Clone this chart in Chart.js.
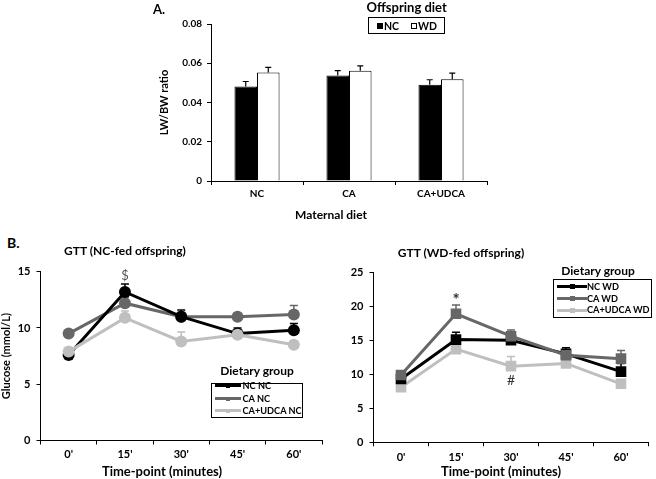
<!DOCTYPE html>
<html><head><meta charset="utf-8">
<script src="https://cdn.jsdelivr.net/npm/chart.js@4.4.1/dist/chart.umd.min.js"></script>
<style>
html,body{margin:0;padding:0;background:#fff;width:656px;height:479px;overflow:hidden;}
#wrap{position:relative;width:656px;height:479px;font-family:Lato,"Liberation Sans",sans-serif;}
canvas{position:absolute;}
.t{position:absolute;font-weight:bold;white-space:nowrap;color:#000;}
.box{position:absolute;border:1px solid #000;box-sizing:border-box;background:#fff;}
</style></head><body>
<div id="wrap">
<canvas id="cA" style="left:150px;top:0px" width="345" height="225"></canvas>
<canvas id="cL" style="left:0px;top:255px" width="330" height="224"></canvas>
<canvas id="cR" style="left:330px;top:255px" width="326" height="224"></canvas>
</div>
<script>
// ---------- DATA ----------
const maternalDiets = ['NC', 'CA', 'CA+UDCA'];
const offspringDiets = ['NC', 'WD'];
const lwbwNC = [0.0482, 0.0538, 0.0490];
const lwbwWD = [0.0553, 0.0562, 0.0519];
const lwbwNCerr = [0.0025, 0.0024, 0.0026];
const lwbwWDerr = [0.0026, 0.0025, 0.0031];
const lwbwTicks = [0, 0.02, 0.04, 0.06, 0.08];

const timePoints = ["0'", "15'", "30'", "45'", "60'"];
const groupsNC = ['NC NC', 'CA NC', 'CA+UDCA NC'];
const gttNC_NCNC = [7.6, 13.2, 11.0, 9.5, 9.8];
const gttNC_CANC = [9.5, 12.2, 11.0, 11.0, 11.2];
const gttNC_UDCA = [7.9, 10.9, 8.8, 9.4, 8.5];
const errNC_NCNC = [0.3, 0.7, 0.6, 0.5, 0.6];
const errNC_CANC = [0.3, 0.5, 0.4, 0.3, 0.8];
const errNC_UDCA = [0.3, 0.6, 0.85, 0.3, 0.3];

const groupsWD = ['NC WD', 'CA WD', 'CA+UDCA WD'];
const gttWD_NCWD = [9.3, 15.1, 15.0, 13.0, 10.4];
const gttWD_CAWD = [9.9, 18.9, 15.6, 12.8, 12.3];
const gttWD_UDCA = [8.1, 13.7, 11.2, 11.6, 8.6];
const errWD_NCWD = [0.4, 1.1, 0.8, 0.9, 1.2];
const errWD_CAWD = [0.5, 1.3, 0.9, 0.5, 1.2];
const errWD_UDCA = [0.4, 0.6, 1.4, 0.5, 0.5];

// ---------- STYLE ----------
const FONT = 'Lato, "Liberation Sans", sans-serif';
const C_BLACK = '#000000', C_DARK = '#676767', C_LIGHT = '#bfbfbf';

// ---------- PLUGINS ----------
const errorBars = {
  id: 'errorBars',
  afterDatasetDraw(chart, args) {
    const ds = chart.data.datasets[args.index];
    if (!ds.err) return;
    const ctx = chart.ctx, y = chart.scales.y;
    ctx.save();
    ctx.strokeStyle = ds.errColor || ds.borderColor;
    ctx.lineWidth = ds.errWidth || 1.5;
    const cap = ds.capHalf || 3;
    args.meta.data.forEach((el, j) => {
      const v = ds.data[j], e = ds.err[j];
      const yTop = y.getPixelForValue(v + e);
      const yBase = y.getPixelForValue(v);
      if (yBase <= yTop) return;
      ctx.beginPath();
      ctx.moveTo(el.x, yBase); ctx.lineTo(el.x, yTop);
      ctx.moveTo(el.x - cap, yTop); ctx.lineTo(el.x + cap, yTop);
      ctx.stroke();
    });
    ctx.restore();
  }
};
const marks = {
  id: 'marks',
  afterDatasetsDraw(chart, args, opts) {
    if (!opts.items) return;
    const ctx = chart.ctx;
    ctx.save();
    ctx.textAlign = 'center'; ctx.textBaseline = 'middle';
    opts.items.forEach(it => {
      ctx.font = it.font; ctx.fillStyle = it.color;
      ctx.fillText(it.text, chart.scales.x.getPixelForValue(it.i), chart.scales.y.getPixelForValue(it.v));
    });
    ctx.restore();
  }
};

// ---------- CHART A ----------
new Chart(document.getElementById('cA'), {
  type: 'bar',
  data: {
    labels: maternalDiets,
    datasets: [
      { label: offspringDiets[0], data: lwbwNC, err: lwbwNCerr, backgroundColor: '#000', borderColor: '#000', borderWidth: 1, errColor: '#000', capHalf: 3, errWidth: 1.2 },
      { label: offspringDiets[1], data: lwbwWD, err: lwbwWDerr, backgroundColor: '#fff', borderColor: '#000', borderWidth: 1, errColor: '#000', capHalf: 3, errWidth: 1.2 }
    ]
  },
  plugins: [errorBars],
  options: {
    responsive: false, animation: false, devicePixelRatio: 1,
    categoryPercentage: 0.49, barPercentage: 1.0,
    layout: { padding: { top: 24, right: 8, left: 0, bottom: 0 } },
    plugins: { legend: { display: false }, tooltip: { enabled: false } },
    scales: {
      x: {
        afterFit(s) { s.height = 44; },
        border: { color: '#000', width: 1 },
        grid: { drawOnChartArea: false, tickLength: 4, color: '#000' },
        ticks: { color: '#000', font: { family: FONT, size: 10, weight: 'bold' }, padding: 3 }
      },
      y: {
        min: 0, max: 0.08,
        afterFit(s) { s.width = 61; },
        afterBuildTicks(s) { s.ticks = lwbwTicks.map(v => ({ value: v })); },
        border: { color: '#000', width: 1 },
        grid: { drawOnChartArea: false, tickLength: 4, color: '#000' },
        ticks: { color: '#000', font: { family: FONT, size: 10, weight: 'bold' }, padding: 5, callback: v => String(v) },
        title: { display: true, text: 'LW/BW ratio', color: '#000', font: { family: FONT, size: 11, weight: 'bold' }, padding: { top: 8, bottom: 0 } }
      }
    }
  }
});

// ---------- LINE CHART FACTORY ----------
function lineChart(id, cfg) {
  return new Chart(document.getElementById(id), {
    type: 'line',
    data: { labels: timePoints, datasets: cfg.datasets },
    plugins: [errorBars, marks],
    options: {
      responsive: false, animation: false, devicePixelRatio: 1,
      layout: { padding: cfg.pad },
      plugins: { legend: { display: false }, tooltip: { enabled: false }, marks: { items: cfg.marks } },
      scales: {
        x: {
          offset: true,
          afterFit(s) { s.height = cfg.xH; },
          border: { color: '#000', width: 1 },
          grid: { offset: true, drawOnChartArea: false, tickLength: 4, color: '#000' },
          ticks: { color: '#000', font: { family: FONT, size: 11, weight: 'bold' }, padding: cfg.xTickPad }
        },
        y: {
          min: 0, max: cfg.ymax,
          afterFit(s) { s.width = cfg.yW; },
          border: { color: '#000', width: 1 },
          grid: { drawOnChartArea: false, tickLength: 4, color: '#000' },
          ticks: { stepSize: 5, color: '#000', font: { family: FONT, size: 11, weight: 'bold' }, padding: cfg.yTickPad },
          title: { display: !!cfg.yTitle, text: cfg.yTitle || '', color: '#000', font: { family: FONT, size: 11, weight: 'bold' }, padding: { top: 0, bottom: 0 } }
        }
      }
    }
  });
}
function ser(label, data, err, color, style, r, order) {
  return { label, data, err, borderColor: color, backgroundColor: color, pointBackgroundColor: color,
    pointBorderColor: color, borderWidth: 3, pointStyle: style, pointRadius: r, pointBorderWidth: 0,
    tension: 0, fill: false, order, capHalf: 4, errWidth: 1.5 };
}

lineChart('cL', {
  ymax: 15, yW: 40.5, xH: 38.5, xTickPad: 3, yTickPad: 6, yTitle: 'Glucose (mmol/L)',
  pad: { top: 16.7, right: 8, left: 0, bottom: 0 },
  datasets: [
    ser(groupsNC[0], gttNC_NCNC, errNC_NCNC, C_BLACK, 'circle', 6, 1),
    ser(groupsNC[1], gttNC_CANC, errNC_CANC, C_DARK, 'circle', 6, 2),
    ser(groupsNC[2], gttNC_UDCA, errNC_UDCA, C_LIGHT, 'circle', 6, 0)
  ],
  marks: [{ i: 1, v: 14.6, text: '$', font: '13px ' + FONT, color: '#555' }]
});

lineChart('cR', {
  ymax: 25, yW: 43.5, xH: 36.7, xTickPad: 5, yTickPad: 6, yTitle: '',
  pad: { top: 17.3, right: 1, left: 0, bottom: 0 },
  datasets: [
    ser(groupsWD[0], gttWD_NCWD, errWD_NCWD, C_BLACK, 'rect', 7.5, 1),
    ser(groupsWD[1], gttWD_CAWD, errWD_CAWD, C_DARK, 'rect', 7.5, 0),
    ser(groupsWD[2], gttWD_UDCA, errWD_UDCA, C_LIGHT, 'rect', 7.5, 2)
  ],
  marks: [
    { i: 1, v: 20.9, text: '*', font: 'bold 17px ' + FONT, color: '#333' },
    { i: 2, v: 9.1, text: '#', font: '14px ' + FONT, color: '#333' }
  ]
});

// ---------- HTML TEXT & LEGENDS ----------
const wrap = document.getElementById('wrap');
function txt(s, x, cy, size, align, extra) {
  const d = document.createElement('div');
  d.className = 't'; d.textContent = s;
  d.style.fontSize = size + 'px'; d.style.lineHeight = size + 'px';
  d.style.top = (cy - size / 2) + 'px';
  if (extra) Object.assign(d.style, extra);
  if (align === 'center') { d.style.left = x + 'px'; d.style.transform = 'translateX(-50%)'; }
  else d.style.left = x + 'px';
  wrap.appendChild(d); return d;
}
function box(x, y, w, h) {
  const d = document.createElement('div'); d.className = 'box';
  d.style.left = x + 'px'; d.style.top = y + 'px'; d.style.width = w + 'px'; d.style.height = h + 'px';
  wrap.appendChild(d); return d;
}
function rect(x, y, w, h, bg, border) {
  const d = document.createElement('div'); d.style.position = 'absolute';
  d.style.left = x + 'px'; d.style.top = y + 'px'; d.style.width = w + 'px'; d.style.height = h + 'px';
  d.style.background = bg; d.style.boxSizing = 'border-box';
  if (border) d.style.border = border;
  wrap.appendChild(d); return d;
}

txt('A.', 153, 9, 13, 'left');
txt('B.', 7, 243, 14, 'left');
txt('GTT  (NC-fed offspring)', 125, 251.3, 12, 'center');
txt('GTT  (WD-fed offspring)', 461, 253.3, 12, 'center');
txt('Maternal diet', 331, 215, 12, 'center');
txt('Time-point (minutes)', 162, 471.5, 13, 'center');
txt('Time-point (minutes)', 501, 471.5, 13, 'center');

// Legend A
txt('Offspring diet', 406.7, 7.5, 13, 'center');
box(368, 16.5, 77, 17);
rect(377, 23, 6, 6, '#000');
txt(offspringDiets[0], 384, 26, 10.5, 'left');
rect(411, 23, 6, 6, '#fff', '1px solid #000');
txt(offspringDiets[1], 418, 26, 10.5, 'left');

// Legend B left
txt('Dietary group', 257, 371, 12, 'center');
box(211, 382.7, 92, 35.5);
const colsL = [C_BLACK, C_DARK, C_LIGHT];
const rowsL = [385.7, 398.5, 410.7];
groupsNC.forEach((g, i) => {
  rect(215, rowsL[i] - 1.5, 26, 3, colsL[i]);
  rect(226, rowsL[i] - 2, 4, 4, colsL[i]);
  txt(g, 242.5, rowsL[i], 9.2, 'left');
});

// Legend B right
txt('Dietary group', 598, 270.7, 12, 'center');
box(552.7, 279.3, 99, 39);
const rowsR = [286.7, 298.3, 310];
groupsWD.forEach((g, i) => {
  rect(557, rowsR[i] - 1.5, 30, 3, colsL[i]);
  rect(570, rowsR[i] - 2.5, 5, 5, colsL[i]);
  txt(g, 587, rowsR[i], 9.2, 'left');
});
</script>
</body></html>
